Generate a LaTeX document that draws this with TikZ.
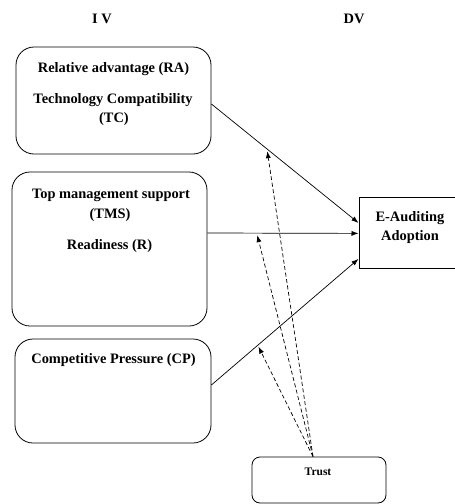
\documentclass[tikz,border=0pt]{standalone}
\usepackage{fontspec}
\setmainfont{Liberation Serif}
\usetikzlibrary{arrows.meta}
\begin{document}
\begin{tikzpicture}[x=1pt,y=-1pt,
  lbl/.style={font=\fontsize{14.4}{20}\selectfont\bfseries, anchor=base, inner sep=0pt},
  small/.style={font=\fontsize{11.5}{13}\selectfont\bfseries, anchor=base, inner sep=0pt},
  rbox/.style={draw, line width=0.8pt, rounded corners=18pt, inner sep=0pt},
  sbox/.style={draw, line width=0.8pt, inner sep=0pt},
  conn/.style={line width=0.7pt, -{Latex[length=7pt,width=5pt]}},
  dconn/.style={line width=0.7pt, dashed, dash pattern=on 4pt off 2.5pt, -{Latex[length=7pt,width=5pt]}}
]
\useasboundingbox (0,0) rectangle (455,504);
% boxes
\node[rbox, minimum width=195pt, minimum height=107pt] (ra) at (113.5,100.5) {};
\node[rbox, minimum width=195pt, minimum height=154pt] (tms) at (109.5,249) {};
\node[rbox, minimum width=196pt, minimum height=104pt] (cp) at (113,391) {};
\node[sbox, minimum width=110pt, minimum height=71pt, anchor=north west] (ea) at (358.5,197) {};
\node[draw, line width=0.8pt, rounded corners=8pt, minimum width=134pt, minimum height=46pt] (trust) at (319,480) {};
% texts
\node[lbl] (iv) at (102,23) {I V};
\node[lbl] (dv) at (354,23) {DV};
\node[lbl] (t1) at (113.5,72) {Relative advantage (RA)};
\node[lbl] (t2) at (113,103) {Technology Compatibility};
\node[lbl] (t3) at (114,122) {(TC)};
\node[lbl] (t4) at (111,198) {Top management support};
\node[lbl] (t5) at (110,218) {(TMS)};
\node[lbl] (t6) at (109.5,249) {Readiness (R)};
\node[lbl] (t7) at (113.5,363) {Competitive Pressure (CP)};
\node[lbl] (t8) at (410,221) {E-Auditing};
\node[lbl] (t9) at (410,240) {Adoption};
\node[small] (t10) at (318,475) {Trust};
% connectors
\draw[conn] ([yshift=-3.5pt]ra.east) -- coordinate[pos=0.38] (m1) ([yshift=10pt]ea.west);
\draw[conn] ([yshift=16pt]tms.east) -- coordinate[pos=0.33] (m2) ([yshift=-0.5pt]ea.west);
\draw[conn] ([yshift=6pt]cp.east) -- coordinate[pos=0.32] (m3) ([yshift=-26pt]ea.west);
\coordinate (tt) at ([xshift=-6pt]trust.north);
\draw[dconn] (tt) -- ([yshift=-2pt]m1);
\draw[dconn] (tt) -- ([yshift=-2pt]m2);
\draw[dconn] (tt) -- ([yshift=-2pt]m3);
\end{tikzpicture}
\end{document}
